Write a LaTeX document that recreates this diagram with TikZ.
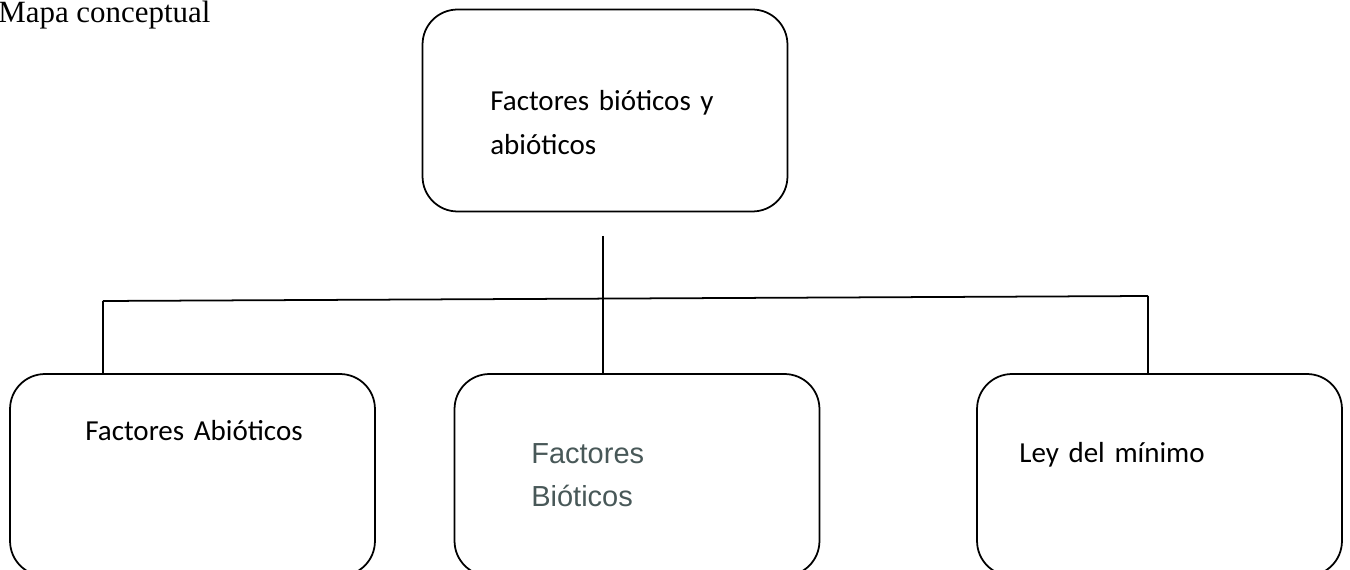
\documentclass[tikz,border=0pt]{standalone}
\usepackage{fontspec}
\setmainfont{Liberation Serif}
\newfontfamily\calibri{Carlito}
\newfontfamily\arial{Liberation Sans}
\usetikzlibrary{positioning}
\definecolor{slategrey}{RGB}{72,88,88}
\tikzset{
	concept/.style = {draw, rounded corners = 0.7cm, line width = 1pt, minimum width = 7.3cm, minimum height = 4.04cm, inner sep = 0pt},
	boxtext/.style = {anchor = base west, inner sep = 0pt, text width = 6cm, align = left, font = \calibri\fontsize{16.5}{25}\selectfont},
	link/.style = {line width = 1pt}
}
\begin{document}
\begin{tikzpicture}[x = 0.02cm, y = -0.02cm]
	\useasboundingbox (0,0) rectangle (1350,570);
	\node [anchor = base west, inner sep = 0pt, font = \fontsize{17.6}{20}\selectfont] (title) at (-2,23) {Mapa conceptual};
	% boxes
	\node [concept] (top) at (605,110.5) {};
	\node [concept] (left) at (192.5,475) {};
	\node [concept] (mid) at (637,475) {};
	\node [concept] (right) at (1159.5,475) {};
	% texts
	\node [boxtext] (toptext) at (490,111) {Factores bióticos y\\abióticos};
	\node [boxtext] (lefttext) at (85,441) {Factores Abióticos};
	\node [boxtext, font = \arial\fontsize{16.5}{24.2}\selectfont, text = slategrey] (midtext) at (531,464) {Factores\\Bióticos};
	\node [boxtext] (righttext) at (1019,463) {Ley del mínimo};
	% connectors
	\coordinate (stem) at (603,236);
	\coordinate (lj) at (103,301);
	\coordinate (rj) at (1148,296);
	\draw [link] (stem) -- (stem |- mid.north);
	\draw [link] (lj) -- (rj);
	\draw [link] (lj) -- (lj |- left.north);
	\draw [link] (rj) -- (rj |- right.north);
\end{tikzpicture}
\end{document}
